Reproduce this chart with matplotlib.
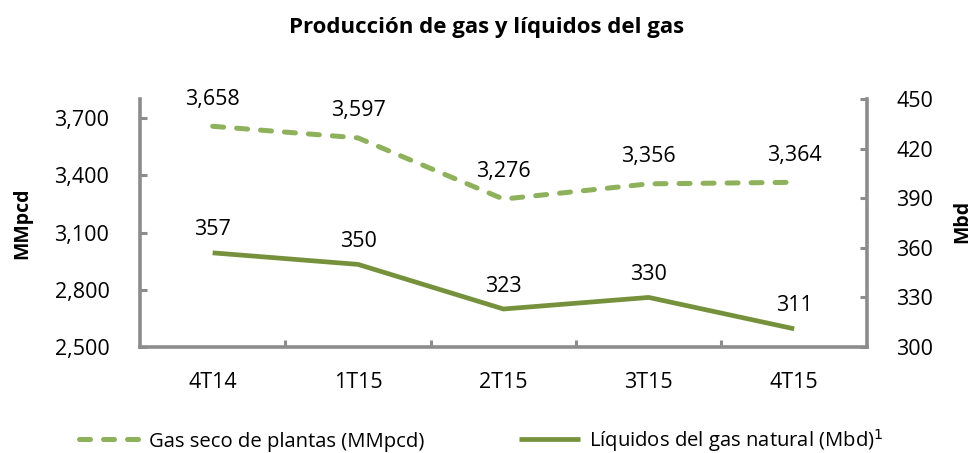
import matplotlib
matplotlib.use('Agg')
import matplotlib.pyplot as plt
from matplotlib.ticker import FuncFormatter

quarters = ['4T14', '1T15', '2T15', '3T15', '4T15']
gas_seco = [3658, 3597, 3276, 3356, 3364]
liquidos = [357, 350, 323, 330, 311]

gas_color = '#8eb15b'
liq_color = '#76913c'
axis_color = '#8c8c8c'

plt.rcParams['font.family'] = ['Open Sans', 'DejaVu Sans']
fs = 15.5

fig = plt.figure(figsize=(9.74, 4.53), dpi=100)
ax = fig.add_axes([0.1437, 0.234, 0.7463, 0.547])
ax2 = ax.twinx()

x = range(len(quarters))
l1, = ax.plot(x, gas_seco, color=gas_color, lw=3.6, ls=(0, (2.2, 2.6)),
              dash_capstyle='round', label='Gas seco de plantas (MMpcd)')
l2, = ax2.plot(x, liquidos, color=liq_color, lw=3.4, solid_capstyle='butt',
               label='Líquidos del gas natural (Mbd)$^{1}$')

for i, v in enumerate(gas_seco):
    ax.annotate('{:,}'.format(v), (i, v), xytext=(0, 12), textcoords='offset points',
                ha='center', va='bottom', fontsize=fs)
for i, v in enumerate(liquidos):
    ax2.annotate('{}'.format(v), (i, v), xytext=(0, 9), textcoords='offset points',
                 ha='center', va='bottom', fontsize=fs)

ax.set_xlim(-0.5, len(quarters) - 0.5)
ax.set_ylim(2500, 3800)
ax.set_yticks([2500, 2800, 3100, 3400, 3700])
ax.yaxis.set_major_formatter(FuncFormatter(lambda v, p: '{:,}'.format(int(v))))
ax2.set_ylim(300, 450)
ax2.set_yticks([300, 330, 360, 390, 420, 450])

ax.set_xticks(list(x))
ax.set_xticklabels(quarters)
ax.set_xticks([i + 0.5 for i in range(len(quarters) - 1)], minor=True)
ax.tick_params(axis='x', which='major', length=0, pad=18, labelsize=fs)
ax.tick_params(axis='x', which='minor', direction='in', length=5, width=2.2, color=axis_color)
ax.tick_params(axis='y', direction='in', length=5, width=2.2, color=axis_color, labelsize=fs, pad=22)
ax2.tick_params(axis='y', direction='in', length=5, width=2.2, color=axis_color, labelsize=fs, pad=21)

for a in (ax, ax2):
    for s in a.spines.values():
        s.set_visible(False)
ax.spines['left'].set_visible(True)
ax.spines['bottom'].set_visible(True)
ax2.spines['right'].set_visible(True)
for s in (ax.spines['left'], ax.spines['bottom'], ax2.spines['right']):
    s.set_color(axis_color)
    s.set_linewidth(2.6)

fig.text(0.0225, 0.508, 'MMpcd', rotation=90, ha='center', va='center', fontsize=14, fontweight='bold')
fig.text(0.988, 0.512, 'Mbd', rotation=90, ha='center', va='center', fontsize=14, fontweight='bold')
fig.text(0.5, 0.94, 'Producción de gas y líquidos del gas', ha='center', va='center',
         fontsize=16, fontweight='bold')

fig.legend(handles=[l1, l2], loc='center', bbox_to_anchor=(0.494, 0.028), ncol=2, frameon=False,
           fontsize=14.6, handlelength=3.0, handletextpad=0.45, columnspacing=4.7)

fig.savefig('out.png', dpi=100)
